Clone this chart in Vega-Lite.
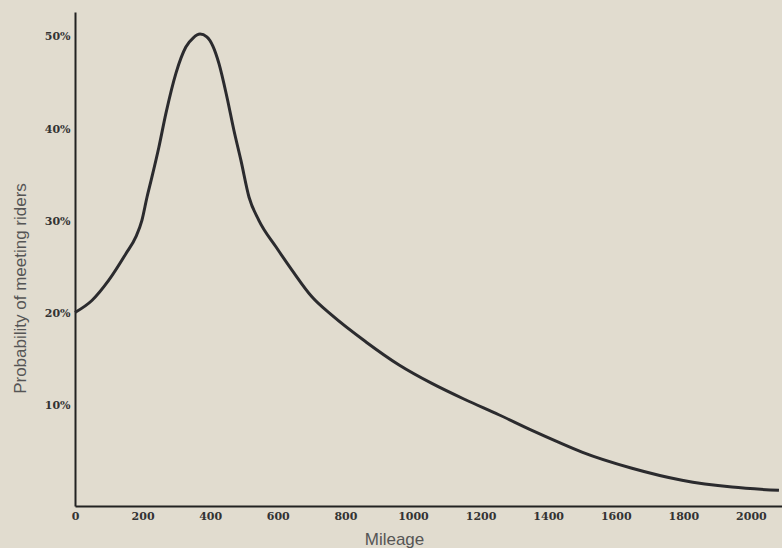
{
  "$schema": "https://vega.github.io/schema/vega-lite/v6.json",
  "autosize": "none",
  "width": 707,
  "height": 494,
  "padding": {"left": 75, "top": 12, "right": 0, "bottom": 42},
  "background": "#e1dccf",
  "config": {"view": {"stroke": null}},
  "data": {
    "values": [
      {"miles": 0, "prob": 20.1},
      {"miles": 50, "prob": 21.4},
      {"miles": 100, "prob": 23.6},
      {"miles": 151, "prob": 26.5},
      {"miles": 180, "prob": 28.3},
      {"miles": 198, "prob": 30.1},
      {"miles": 213, "prob": 32.6},
      {"miles": 225, "prob": 34.4},
      {"miles": 248, "prob": 38.0},
      {"miles": 269, "prob": 41.7},
      {"miles": 299, "prob": 46.1},
      {"miles": 328, "prob": 48.9},
      {"miles": 350, "prob": 49.9},
      {"miles": 370, "prob": 50.3},
      {"miles": 390, "prob": 50.0},
      {"miles": 408, "prob": 49.0},
      {"miles": 426, "prob": 47.1},
      {"miles": 450, "prob": 43.4},
      {"miles": 470, "prob": 39.9},
      {"miles": 491, "prob": 36.6},
      {"miles": 515, "prob": 32.6},
      {"miles": 544, "prob": 30.1},
      {"miles": 595, "prob": 27.2},
      {"miles": 642, "prob": 24.7},
      {"miles": 701, "prob": 21.8},
      {"miles": 760, "prob": 19.8},
      {"miles": 861, "prob": 16.9},
      {"miles": 959, "prob": 14.4},
      {"miles": 1056, "prob": 12.4},
      {"miles": 1157, "prob": 10.6},
      {"miles": 1254, "prob": 9.0},
      {"miles": 1352, "prob": 7.3},
      {"miles": 1432, "prob": 6.0},
      {"miles": 1500, "prob": 4.95},
      {"miles": 1648, "prob": 3.2},
      {"miles": 1796, "prob": 1.9},
      {"miles": 1944, "prob": 1.15},
      {"miles": 2083, "prob": 0.8}
    ]
  },
  "mark": {"type": "line", "color": "#2b2b2e", "strokeWidth": 3, "interpolate": "monotone"},
  "encoding": {
    "x": {
      "field": "miles",
      "type": "quantitative",
      "title": "Mileage",
      "scale": {"domain": [0, 2092], "nice": false, "zero": false},
      "axis": {
        "values": [0, 200, 400, 600, 800, 1000, 1200, 1400, 1600, 1800, 2000],
        "format": "d",
        "grid": false,
        "ticks": false,
        "domainColor": "#222",
        "domainWidth": 2,
        "labelFont": "DejaVu Serif",
        "labelFontWeight": "bold",
        "labelFontSize": 11,
        "labelColor": "#333",
        "labelPadding": 4,
        "labelFlush": false,
        "titleFont": "Liberation Sans",
        "titleFontWeight": "normal",
        "titleFontSize": 17,
        "titleColor": "#555",
        "titleX": 319,
        "titleY": 38,
        "titleBaseline": "alphabetic"
      }
    },
    "y": {
      "field": "prob",
      "type": "quantitative",
      "title": "Probability of meeting riders",
      "scale": {"domain": [-0.9, 52.7], "nice": false, "zero": false},
      "axis": {
        "values": [10, 20, 30, 40, 50],
        "labelExpr": "datum.value + '%'",
        "grid": false,
        "ticks": false,
        "domainColor": "#222",
        "domainWidth": 2,
        "labelFont": "DejaVu Serif",
        "labelFontWeight": "bold",
        "labelFontSize": 11,
        "labelColor": "#333",
        "labelPadding": 5,
        "titleFont": "Liberation Sans",
        "titleFontWeight": "normal",
        "titleFontSize": 17,
        "titleColor": "#555",
        "titleX": -50,
        "titleY": 276,
        "titleBaseline": "alphabetic"
      }
    }
  }
}
